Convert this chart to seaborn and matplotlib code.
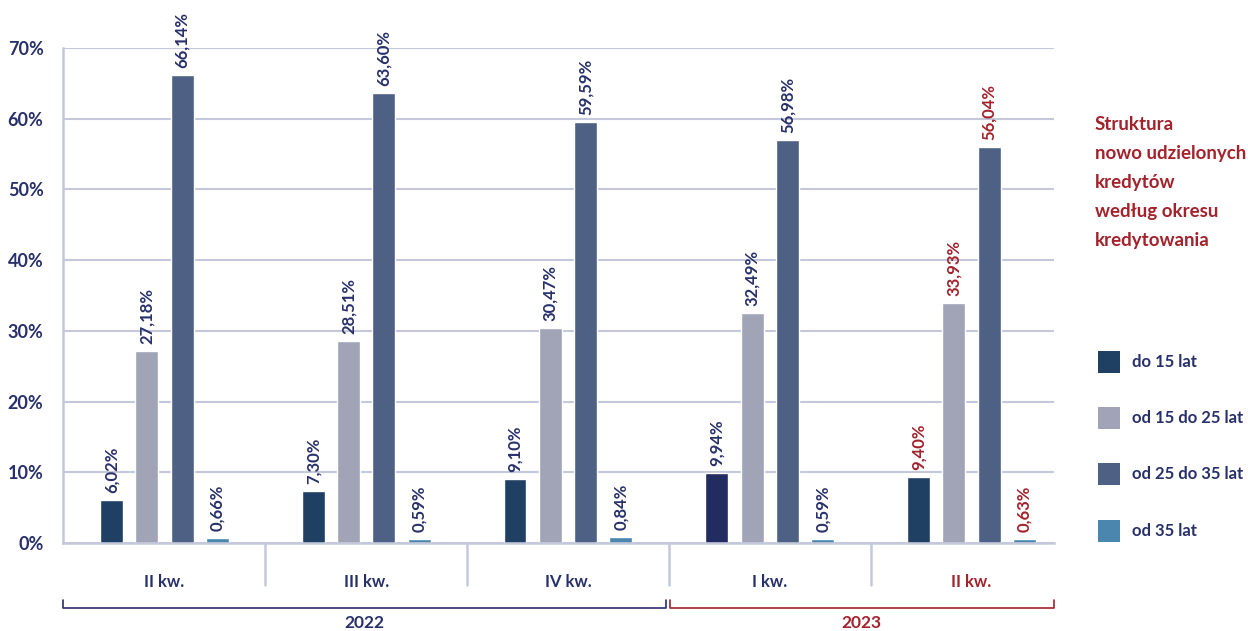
import matplotlib
matplotlib.use("Agg")
import matplotlib.pyplot as plt
import seaborn as sns
import pandas as pd
from matplotlib.patches import Rectangle
from matplotlib.lines import Line2D

# ---- data ----
periods = ["2022 II", "2022 III", "2022 IV", "2023 I", "2023 II"]
quarter_labels = ["II kw.", "III kw.", "IV kw.", "I kw.", "II kw."]
years = ["2022", "2023"]
series = ["do 15 lat", "od 15 do 25 lat", "od 25 do 35 lat", "od 35 lat"]
do15 = [6.02, 7.30, 9.10, 9.94, 9.40]
od15_25 = [27.18, 28.51, 30.47, 32.49, 33.93]
od25_35 = [66.14, 63.60, 59.59, 56.98, 56.04]
od35 = [0.66, 0.59, 0.84, 0.59, 0.63]
y_ticks = [0, 10, 20, 30, 40, 50, 60, 70]
title_text = "Struktura\nnowo udzielonych\nkredytów\nwedług okresu\nkredytowania"

# ---- styles ----
colors = ["#1f3f63", "#a1a3b7", "#4e6083", "#4a86ad"]
NAVY = "#27306a"
RED = "#a3222b"
GRID = "#c3c9db"
FONT = ["Lato", "DejaVu Sans"]
WT = "bold"

sns.set_theme(style="white")
plt.rcParams["font.family"] = FONT

df = pd.DataFrame({
    "period": periods * 4,
    "series": sum([[s] * len(periods) for s in series], []),
    "value": do15 + od15_25 + od25_35 + od35,
})

W, H = 1248, 631
fig = plt.figure(figsize=(W / 100, H / 100), dpi=100)
ax_l, ax_r, ax_b, ax_t = 63, 1054, 543, 48
ax = fig.add_axes([ax_l / W, 1 - ax_b / H, (ax_r - ax_l) / W, (ax_b - ax_t) / H])

sns.barplot(data=df, x="period", y="value", hue="series", order=periods,
            hue_order=series, palette=colors, width=0.70, gap=0.35,
            legend=False, ax=ax, saturation=1)

ax.set_xlim(-0.503, 4.409)
ax.set_ylim(0, 70)
ax.set_yticks(y_ticks)
ax.set_yticklabels([f"{v}%" for v in y_ticks], fontsize=13, color=NAVY,
                   fontweight=WT)
ax.tick_params(axis="y", length=0, pad=14)
ax.set_xticks(range(len(periods)))
ax.set_xticklabels(quarter_labels, fontsize=12, fontweight=WT)
for i, t in enumerate(ax.get_xticklabels()):
    t.set_color(RED if periods[i].startswith("2023 II") else NAVY)
ax.tick_params(axis="x", length=0, pad=22)
ax.set_xlabel("")
ax.set_ylabel("")
ax.yaxis.grid(True, color=GRID, linewidth=1.5)
ax.set_axisbelow(True)
for s in ["top", "right"]:
    ax.spines[s].set_visible(False)
for s in ["left", "bottom"]:
    ax.spines[s].set_color(GRID)
    ax.spines[s].set_linewidth(1.8)

# special colour for I kw. first bar
ax.containers[0][3].set_facecolor("#222c60")

# value labels
all_vals = [do15, od15_25, od25_35, od35]
for si, cont in enumerate(ax.containers):
    for pi, bar in enumerate(cont):
        v = all_vals[si][pi]
        c = RED if pi == len(periods) - 1 else NAVY
        ax.annotate(f"{v:.2f}%".replace(".", ","),
                    (bar.get_x() + bar.get_width() / 2, bar.get_height()),
                    xytext=(0, 5), textcoords="offset points", rotation=90,
                    ha="center", va="bottom", fontsize=12, fontweight=WT,
                    color=c, annotation_clip=False)

# separators below the axis
trans = ax.get_xaxis_transform()
axh = ax_b - ax_t
for xs in [0.5, 1.5, 2.5, 3.5]:
    ax.add_line(Line2D([xs, xs], [0, -42 / axh], transform=trans, color=GRID,
                       linewidth=1.8, clip_on=False))

# year brackets
yb = -65 / axh
yt = -57 / axh
for (x0, x1), c, lab in zip([(-0.503, 2.485), (2.505, 4.409)], [NAVY, RED], years):
    ax.add_line(Line2D([x0, x0, x1, x1], [yt, yb, yb, yt], transform=trans,
                       color=c, linewidth=1.2, clip_on=False))
    ax.text((x0 + x1) / 2, -80 / axh, lab, transform=trans, ha="center",
            va="center", fontsize=12.5, fontweight=WT, color=c)

# title
fig.text(1095 / W, 1 - 116 / H, title_text, ha="left", va="top", fontsize=13.5,
         fontweight=WT, color=RED, linespacing=1.85)

# legend
for i, (s, c) in enumerate(zip(series, colors)):
    yc = [362, 418, 474, 531][i]
    fig.add_artist(Rectangle((1098 / W, 1 - (yc + 11) / H), 22 / W, 22 / H,
                             transform=fig.transFigure, facecolor=c,
                             edgecolor="none"))
    fig.text(1132 / W, 1 - yc / H, s, ha="left", va="center", fontsize=12,
             fontweight=WT, color=NAVY)

fig.savefig("out.png", dpi=100)
